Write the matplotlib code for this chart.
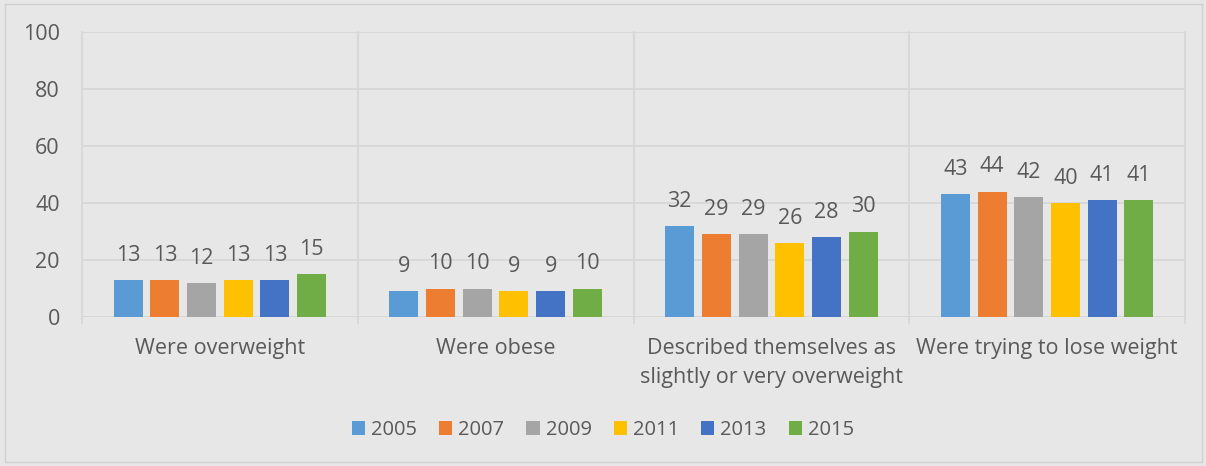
import numpy as np
import matplotlib.pyplot as plt

categories = ['Were overweight', 'Were obese',
              'Described themselves as\nslightly or very overweight',
              'Were trying to lose weight']
years = ['2005', '2007', '2009', '2011', '2013', '2015']
values = {
    '2005': [13, 9, 32, 43],
    '2007': [13, 10, 29, 44],
    '2009': [12, 10, 29, 42],
    '2011': [13, 9, 26, 40],
    '2013': [13, 9, 28, 41],
    '2015': [15, 10, 30, 41],
}
colors = ['#5B9BD5', '#ED7D31', '#A5A5A5', '#FFC000', '#4472C4', '#70AD47']

plt.rcParams['font.family'] = ['Open Sans', 'DejaVu Sans']
txt = '#595959'
bg = '#E7E7E7'
grid = '#D6D6D6'

fig = plt.figure(figsize=(12.06, 4.66), dpi=100, facecolor=bg)
ax = fig.add_axes([82 / 1206, 1 - 317 / 466, (1185 - 82) / 1206, (317 - 32) / 466])
ax.set_facecolor(bg)

x = np.arange(len(categories))
pitch = 0.133
width = 0.105
for i, yr in enumerate(years):
    pos = x + (i - 2.5) * pitch
    bars = ax.bar(pos, values[yr], width, color=colors[i], label=yr, zorder=3)
    for b, v in zip(bars, values[yr]):
        ax.text(b.get_x() + b.get_width() / 2, v + 5, str(v), ha='center',
                va='bottom', fontsize=15.5, color=txt)

ax.set_xlim(-0.5, len(categories) - 0.5)
ax.set_ylim(0, 100)
ax.set_yticks(range(0, 101, 20))
ax.yaxis.grid(True, color=grid, linewidth=1.2, zorder=0)
for b in np.arange(-0.5, len(categories), 1):
    ax.plot([b, b], [-2, 100], color=grid, linewidth=1.2, clip_on=False, zorder=1)
ax.axhline(0, color=grid, linewidth=1.2, zorder=1)

for s in ax.spines.values():
    s.set_visible(False)
ax.tick_params(axis='both', length=0, labelsize=15.5, labelcolor=txt)
ax.tick_params(axis='y', pad=16)
ax.set_xticks(x)
ax.set_xticklabels(categories, va='top', linespacing=1.5)
ax.tick_params(axis='x', pad=15)

ax.legend(loc='center', bbox_to_anchor=(0.5, (466 - 430) / 466), bbox_transform=fig.transFigure,
          ncol=6, frameon=False, fontsize=14.5, labelcolor=txt, handlelength=0.65,
          handleheight=0.65, handletextpad=0.3, columnspacing=1.1)

fig.patches.append(plt.Rectangle((5 / 1206, 4 / 466), 1197 / 1206, 458 / 466,
                                 transform=fig.transFigure, fill=False,
                                 edgecolor='#D0D0D0', linewidth=1))

fig.savefig('out.png', dpi=100, facecolor=bg)
